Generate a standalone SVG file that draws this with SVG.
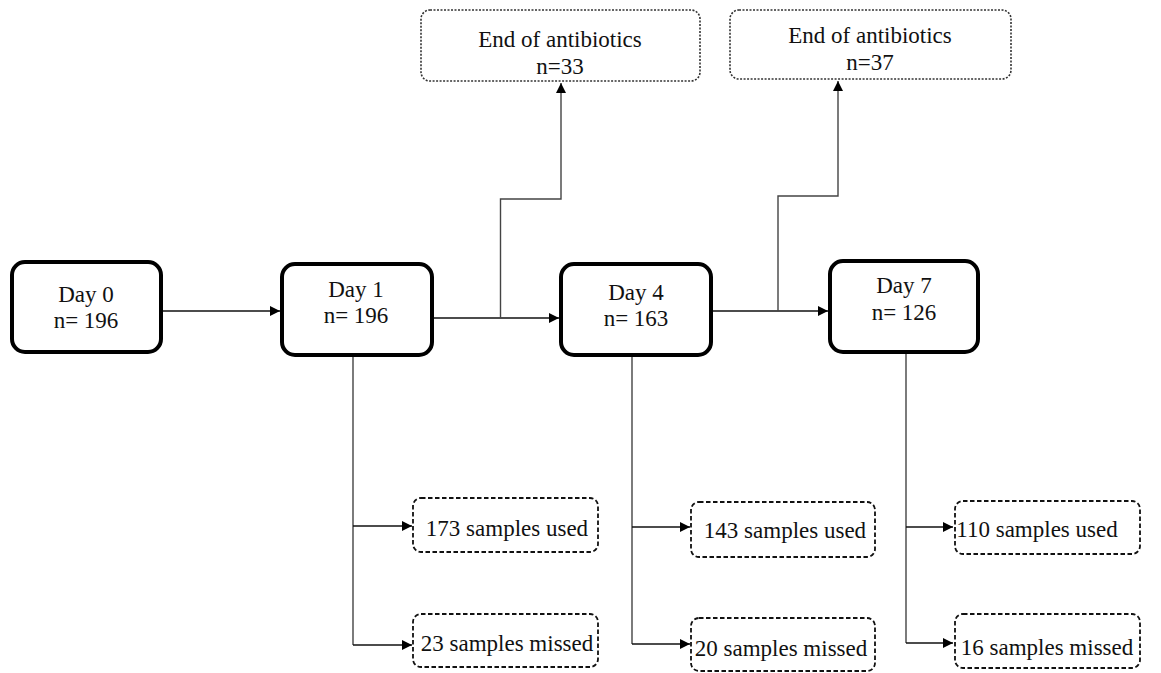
<svg xmlns="http://www.w3.org/2000/svg" width="1161" height="673" viewBox="0 0 1161 673">
<defs>
<style>
.day{fill:#fff;stroke:#000;stroke-width:4}
.ab{fill:#fff;stroke:#333;stroke-width:1.6;stroke-dasharray:2 1.5}
.sm{fill:#fff;stroke:#111;stroke-width:1.8;stroke-dasharray:4.5 2.5}
text{font-family:'Liberation Serif','DejaVu Serif',serif;font-size:23px;fill:#111;text-anchor:middle}
.c{fill:none;stroke:#444;stroke-width:1.4}
.h{fill:none;stroke:#111;stroke-width:1.4}
</style>
<marker id="arr" viewBox="0 0 10 10" refX="10" refY="5" markerWidth="10" markerHeight="10" markerUnits="userSpaceOnUse" orient="auto">
<path d="M0,0 L10,5 L0,10 Z" fill="#000"/>
</marker>
</defs>
<rect width="1161" height="673" fill="#fff"/>
<g id="connectors">
<path class="h" d="M163,311 H280" marker-end="url(#arr)"/>
<path class="h" d="M433,318 H559" marker-end="url(#arr)"/>
<path class="c" d="M500.5,318 V199 H561 V83" marker-end="url(#arr)"/>
<path class="h" d="M712,311 H828" marker-end="url(#arr)"/>
<path class="c" d="M778,311 V196 H838 V81" marker-end="url(#arr)"/>
<path class="c" d="M353,356 V645"/>
<path class="h" d="M353,526 H412" marker-end="url(#arr)"/>
<path class="h" d="M353,645 H412" marker-end="url(#arr)"/>
<path class="c" d="M632,357 V644"/>
<path class="h" d="M632,527 H690" marker-end="url(#arr)"/>
<path class="h" d="M632,644 H690" marker-end="url(#arr)"/>
<path class="c" d="M906,354 V643"/>
<path class="h" d="M906,527 H953" marker-end="url(#arr)"/>
<path class="h" d="M906,643 H953" marker-end="url(#arr)"/>
</g>
<g font-family="Liberation Serif, DejaVu Serif, serif">
<g id="day0"><rect class="day" x="12" y="262" width="149" height="90" rx="13"/><text x="86" y="302">Day 0</text><text x="86" y="328">n= 196</text></g>
<g id="day1"><rect class="day" x="282" y="264" width="150" height="91" rx="13"/><text x="356" y="297">Day 1</text><text x="356" y="323">n= 196</text></g>
<g id="day4"><rect class="day" x="561" y="264" width="150" height="91" rx="13"/><text x="636" y="300">Day 4</text><text x="636" y="326">n= 163</text></g>
<g id="day7"><rect class="day" x="830" y="261" width="148" height="91" rx="13"/><text x="904" y="293">Day 7</text><text x="904" y="320">n= 126</text></g>
<g id="end1"><rect class="ab" x="421" y="10" width="279" height="71" rx="9"/><text x="560" y="47">End of antibiotics</text><text x="560" y="74">n=33</text></g>
<g id="end2"><rect class="ab" x="730" y="10" width="281" height="69" rx="9"/><text x="870" y="43">End of antibiotics</text><text x="870" y="70">n=37</text></g>
<g id="used1"><rect class="sm" x="413" y="498" width="185" height="54" rx="8"/><text x="507" y="536">173 samples used</text></g>
<g id="missed1"><rect class="sm" x="413" y="614" width="185" height="53" rx="8"/><text x="507" y="651">23 samples missed</text></g>
<g id="used4"><rect class="sm" x="691" y="502" width="184" height="55" rx="8"/><text x="785" y="538">143 samples used</text></g>
<g id="missed4"><rect class="sm" x="691" y="618" width="184" height="53" rx="8"/><text x="781" y="656">20 samples missed</text></g>
<g id="used7"><rect class="sm" x="955" y="501" width="185" height="53" rx="8"/><text x="1037" y="537">110 samples used</text></g>
<g id="missed7"><rect class="sm" x="955" y="614" width="185" height="54" rx="8"/><text x="1047" y="655">16 samples missed</text></g>
</g>
</svg>
